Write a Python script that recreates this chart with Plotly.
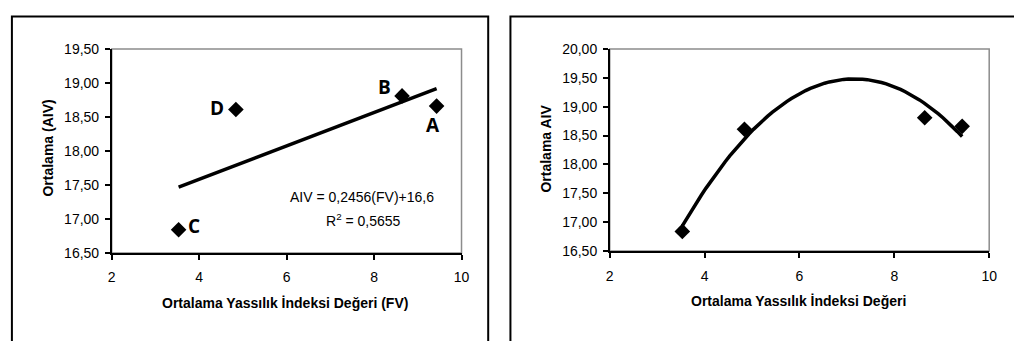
import numpy as np
import plotly.graph_objects as go

# ---- data ----
point_labels = ["A", "B", "C", "D"]
fv_values = [9.43, 8.64, 3.53, 4.84]
aiv_values = [18.66, 18.81, 16.84, 18.61]
lin_slope = 0.2456
lin_intercept = 16.6
eq_text = "AIV = 0,2456(FV)+16,6"
r2_text = "R<sup>2</sup> = 0,5655"

W, H = 1014, 341
def px(x):
    return x / W
def py(y):
    return 1 - y / H

fig = go.Figure()

# left: scatter + linear trend
xs = np.linspace(min(fv_values), max(fv_values), 50)
fig.add_trace(go.Scatter(x=xs, y=lin_slope * xs + lin_intercept, mode="lines",
                         line=dict(color="black", width=3.5), xaxis="x", yaxis="y",
                         hoverinfo="skip", showlegend=False))
fig.add_trace(go.Scatter(x=fv_values, y=aiv_values, mode="markers",
                         marker=dict(symbol="diamond", size=12, color="black"),
                         xaxis="x", yaxis="y", showlegend=False))

# right: scatter + polynomial trend
coef = np.polyfit(fv_values, aiv_values, 2)
xs2 = np.linspace(min(fv_values), max(fv_values), 60)
fig.add_trace(go.Scatter(x=xs2, y=np.polyval(coef, xs2), mode="lines",
                         line=dict(color="black", width=3.5), xaxis="x2", yaxis="y2",
                         hoverinfo="skip", showlegend=False))
fig.add_trace(go.Scatter(x=fv_values, y=aiv_values, mode="markers",
                         marker=dict(symbol="diamond", size=12, color="black"),
                         xaxis="x2", yaxis="y2", showlegend=False))

tickfont = dict(family="Liberation Sans, Arial, sans-serif", size=14, color="black")
axis_common = dict(showgrid=False, zeroline=False, showline=True, linecolor="black",
                   linewidth=1.5, ticks="outside", ticklen=5, tickcolor="black",
                   tickwidth=1.5, tickfont=tickfont)

fig.update_layout(
    width=W, height=H, margin=dict(l=0, r=0, t=0, b=0),
    paper_bgcolor="white", plot_bgcolor="white",
    separators=",.",
    xaxis=dict(domain=[px(109), px(463)], range=[2, 10], dtick=2, anchor="y",
               ticklabelstandoff=6, **axis_common),
    yaxis=dict(domain=[py(257), py(43)], range=[16.5, 19.5], dtick=0.5, tickformat=".2f",
               anchor="x", ticklabelstandoff=3, **axis_common),
    xaxis2=dict(domain=[px(613), px(997)], range=[2, 10], dtick=2, anchor="y2",
                ticklabelstandoff=6, **axis_common),
    yaxis2=dict(domain=[py(255), py(43)], range=[16.5, 20], dtick=0.5, tickformat=".2f",
                anchor="x2", ticklabelstandoff=3, **axis_common),
)

shapes = []
# grey plot-area borders
for xr, yr in (("x domain", "y domain"), ("x2 domain", "y2 domain")):
    shapes.append(dict(type="rect", xref=xr, yref=yr, x0=0, x1=1, y0=0, y1=1,
                       line=dict(color="#8c8c8c", width=1.5), layer="below"))
# outer frames
shapes.append(dict(type="rect", xref="paper", yref="paper", x0=px(8), x1=px(490),
                   y0=-0.1, y1=py(9), line=dict(color="black", width=2)))
shapes.append(dict(type="rect", xref="paper", yref="paper", x0=px(512.5), x1=1.1,
                   y0=-0.1, y1=py(9), line=dict(color="black", width=2)))
fig.update_layout(shapes=shapes)

ann = []
C = dict(xanchor="center", yanchor="middle", showarrow=False)
title_font = dict(family="Liberation Sans, Arial, sans-serif", size=14, color="black")
ann.append(dict(text="<b>Ortalama (AIV)</b>", xref="paper", yref="paper", x=px(45), y=py(147),
                textangle=-90, font=title_font, **C))
ann.append(dict(text="<b>Ortalama Yassılık İndeksi Değeri (FV)</b>", xref="paper", yref="paper",
                x=px(284), y=py(310), font=title_font, **C))
ann.append(dict(text="<b>Ortalama AIV</b>", xref="paper", yref="paper", x=px(549), y=py(148),
                textangle=-90, font=title_font, **C))
ann.append(dict(text="<b>Ortalama Yassılık İndeksi Değeri</b>", xref="paper", yref="paper",
                x=px(804), y=py(307), font=title_font, **C))
eq_font = dict(family="Liberation Sans, Arial, sans-serif", size=14, color="black")
ann.append(dict(text=eq_text, xref="paper", yref="paper", x=px(362), y=py(198),
                font=eq_font, **C))
ann.append(dict(text=r2_text, xref="paper", yref="paper", x=px(364), y=py(222),
                font=eq_font, **C))

shifts = {"A": (-4, -19), "B": (-18, 9), "C": (15, 4), "D": (-19, 1)}
for lab, xv, yv in zip(point_labels, fv_values, aiv_values):
    dx, dy = shifts[lab]
    ann.append(dict(text="<b>" + lab + "</b>", x=xv, y=yv, xref="x", yref="y",
                    xshift=dx, yshift=dy,
                    font=dict(family="Open Sans, Lato, sans-serif", size=19, color="black"), **C))
fig.update_layout(annotations=ann)

fig.write_html("out.html", config={"displayModeBar": False},
               post_script="document.body.style.margin='0';document.body.style.overflow='hidden';")
